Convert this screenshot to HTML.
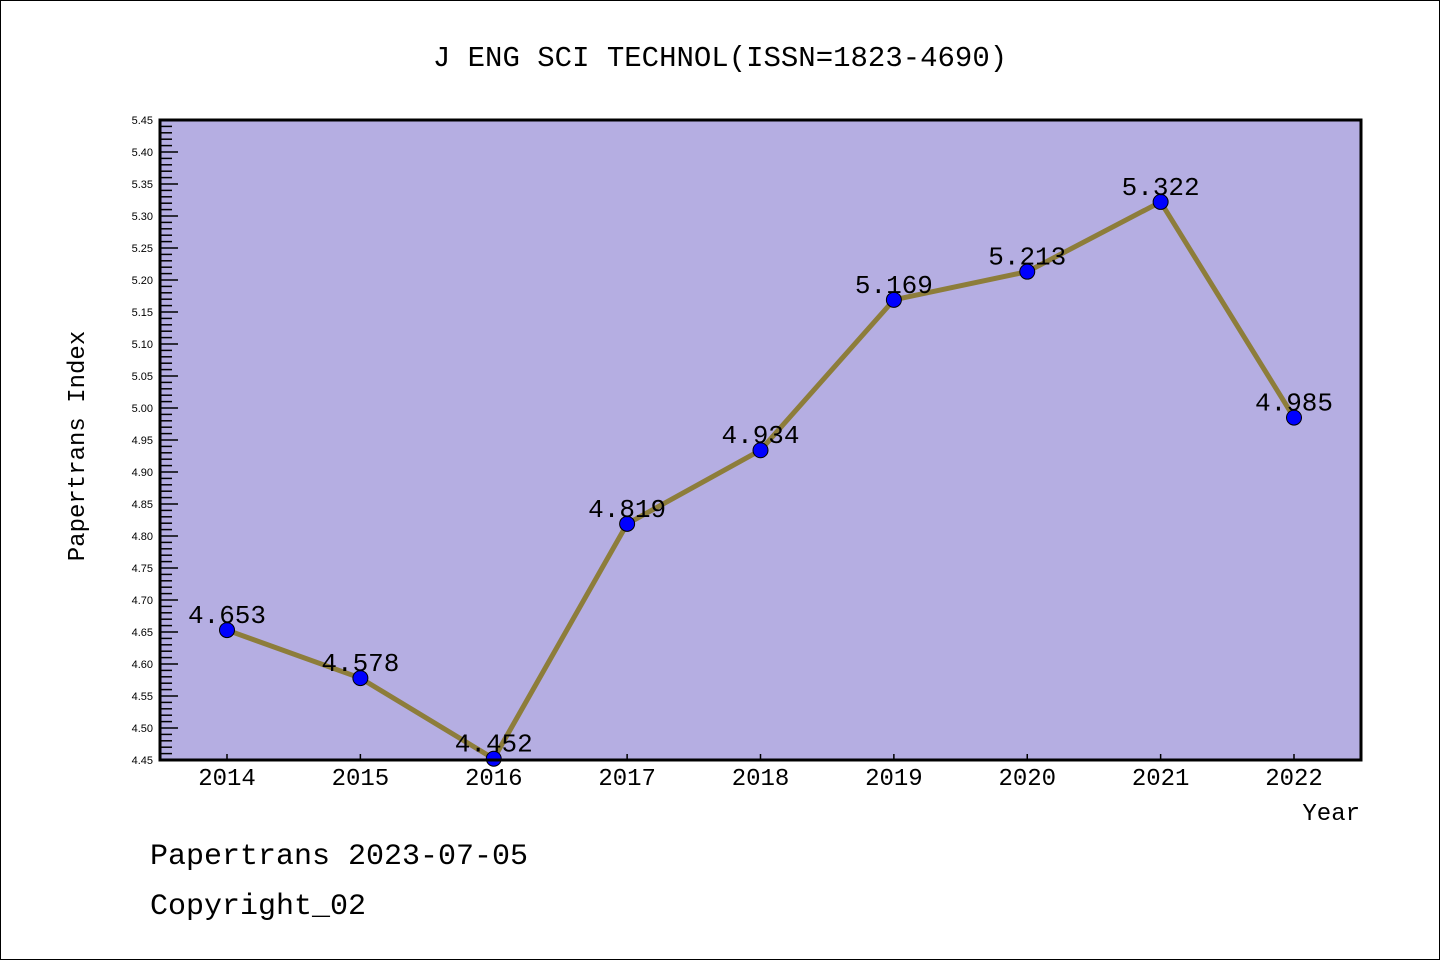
<!DOCTYPE html>
<html><head><meta charset="utf-8"><style>
html,body{margin:0;padding:0;background:#fff;}
svg{display:block;}
.m{font-family:"Liberation Mono","DejaVu Sans Mono",monospace;fill:#000;}
.s{font-family:"Liberation Sans","DejaVu Sans",sans-serif;fill:#000;}
</style></head><body>
<svg id="chart" width="1440" height="960" viewBox="0 0 1440 960">
<rect x="0.5" y="0.5" width="1439" height="959" fill="#fff" stroke="#000"/>
<text class="m" x="720" y="66" font-size="29" text-anchor="middle">J ENG SCI TECHNOL(ISSN=1823-4690)</text>
<rect x="160" y="120" width="1201" height="640" fill="#b5aee2"/>
<g id="ticks"></g>
<g id="series"></g>
<rect x="160" y="120" width="1201" height="640" fill="none" stroke="#000" stroke-width="3"/>
<text class="m" transform="translate(84,446) rotate(-90)" font-size="24" text-anchor="middle">Papertrans Index</text>
<text class="m" x="1360" y="820" font-size="24" text-anchor="end">Year</text>
<text class="m" x="150" y="864" font-size="30">Papertrans 2023-07-05</text>
<text class="m" x="150" y="914" font-size="30">Copyright_02</text>
</svg>
<script>
const years = ['2014','2015','2016','2017','2018','2019','2020','2021','2022'];
const values = [4.653,4.578,4.452,4.819,4.934,5.169,5.213,5.322,4.985];
const valueLabels = ['4.653','4.578','4.452','4.819','4.934','5.169','5.213','5.322','4.985'];
const yTicks = ['4.45','4.50','4.55','4.60','4.65','4.70','4.75','4.80','4.85','4.90','4.95','5.00','5.05','5.10','5.15','5.20','5.25','5.30','5.35','5.40','5.45'];
const yMin = 4.45, yMax = 5.45;
const NS='http://www.w3.org/2000/svg';
const X0=227, XSTEP=(1294-227)/8;
function xs(i){return X0+i*XSTEP;}
function ys(v){return 760-(v-yMin)/(yMax-yMin)*640;}
function mk(t,a,p){const e=document.createElementNS(NS,t);for(const k in a)e.setAttribute(k,a[k]);p.appendChild(e);return e;}
const tg=document.getElementById('ticks'), sg=document.getElementById('series');
// minor ticks
for(let k=0;k<=100;k++){
  const v=yMin+k*0.01, y=ys(v), major=k%5===0;
  const l=mk('line',{x1:160,x2:major?178:172,y1:y,y2:y,stroke:'#000','stroke-width':1.5},tg);
  
  
}
yTicks.forEach(t=>{
  const tx=mk('text',{x:153,y:ys(parseFloat(t))+4,'font-size':11,'text-anchor':'end',class:'s'},tg);
  tx.textContent=t;
  
  
});
years.forEach((yr,i)=>{
  const l=mk('line',{x1:xs(i),x2:xs(i),y1:760,y2:754,stroke:'#000','stroke-width':1.5},tg);
  
  
  const tx=mk('text',{x:xs(i),y:785,'font-size':24,'text-anchor':'middle',class:'m'},tg);
  tx.textContent=yr;
  
  
});
const pl=mk('polyline',{points:values.map((v,i)=>xs(i)+','+ys(v)).join(' '),fill:'none',stroke:'#8d7d3a','stroke-width':5,'stroke-linejoin':'round'},sg);


values.forEach((v,i)=>{
  const c=mk('circle',{cx:xs(i),cy:ys(v),r:7.5,fill:'#0000ff',stroke:'#000','stroke-width':1},sg);
  
  
  const tx=mk('text',{x:xs(i),y:ys(v)-7,'font-size':26,'text-anchor':'middle',class:'m'},sg);
  tx.textContent=valueLabels[i];
  
  
});
</script>
</body></html>
